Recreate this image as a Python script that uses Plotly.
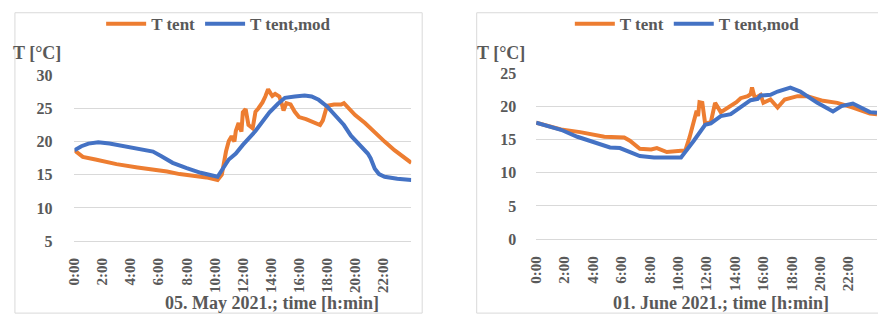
import plotly.graph_objects as go

W, H = 878, 324

# ---- data: 05 May 2021 ----
may_tent_h = [0.0, 0.3, 0.6, 1.5, 3.0, 4.5, 6.0, 6.6, 7.5, 8.5, 9.4, 10.2, 10.5, 10.8, 11.0, 11.2, 11.4, 11.5,
              11.7, 11.9, 12.0, 12.2, 12.4, 12.7, 12.9, 13.1, 13.4, 13.6, 13.8, 14.0, 14.1, 14.3, 14.6, 14.8,
              14.9, 15.1, 15.4, 15.7, 16.0, 16.5, 16.9, 17.2, 17.5, 17.7, 17.85, 18.0, 18.5, 19.0, 19.2, 19.5,
              20.0, 20.7, 21.4, 22.1, 22.8, 23.5, 24.0]
may_tent_T = [18.7, 18.2, 17.7, 17.3, 16.6, 16.1, 15.7, 15.5, 15.1, 14.8, 14.6, 14.2, 15.0, 18.5, 20.1, 20.8, 20.0, 21.6,
              22.8, 21.5, 24.4, 24.9, 22.5, 22.0, 24.5, 25.0, 25.9, 26.8, 27.9, 27.2, 26.9, 27.2, 26.8, 25.5,
              24.7, 25.8, 25.6, 24.5, 23.7, 23.4, 23.0, 22.8, 22.5, 23.2, 24.5, 25.4, 25.6, 25.6, 25.8, 25.1,
              24.0, 22.8, 21.3, 20.0, 18.7, 17.5, 16.8]
may_mod_h = [0.0, 0.5, 1.0, 1.7, 2.5, 3.5, 4.5, 5.3, 5.6, 6.2, 7.0, 8.0, 9.0, 10.2, 10.5, 11.0, 11.5, 12.0, 12.9,
             13.4, 13.9, 14.5, 15.0, 15.7, 16.4, 16.9, 17.4, 18.0, 18.6, 19.2, 19.7, 20.3, 20.9, 21.1, 21.4,
             21.7, 22.1, 23.0, 24.0]
may_mod_T = [18.7, 19.3, 19.7, 19.9, 19.7, 19.3, 18.9, 18.5, 18.5, 17.8, 16.8, 16.0, 15.3, 14.7, 15.6, 17.3, 18.2,
             19.5, 21.6, 23.0, 24.4, 25.7, 26.6, 26.8, 26.95, 26.8, 26.3, 25.3, 24.0, 22.5, 20.9, 19.5, 18.2,
             17.5, 15.9, 15.1, 14.7, 14.4, 14.2]

# ---- data: 01 June 2021 ----
jun_tent_h = [0.0, 1.0, 1.75, 3.1, 4.0, 4.8, 6.2, 6.6, 7.3, 8.1, 8.5, 9.2, 10.2, 10.5, 10.8, 11.1, 11.3, 11.4, 11.5,
              11.7, 11.9, 12.3, 12.6, 13.0, 13.7, 14.1, 14.4, 14.9, 15.1, 15.2, 15.4, 15.8, 16.0, 16.5, 17.0,
              17.5, 18.4, 19.1, 20.2, 21.2, 22.3, 23.5, 24.0]
jun_tent_T = [17.5, 17.0, 16.5, 16.1, 15.7, 15.4, 15.3, 14.8, 13.6, 13.5, 13.7, 13.1, 13.3, 13.3, 15.3, 18.1, 19.3, 18.5, 20.6,
              20.5, 17.4, 17.6, 20.5, 19.1, 20.0, 20.6, 21.2, 21.5, 21.8, 22.8, 21.2, 21.7, 20.5, 21.0, 19.8,
              21.0, 21.5, 21.5, 20.8, 20.5, 19.8, 18.9, 18.8]
jun_mod_h = [0.0, 1.75, 2.9, 4.1, 5.2, 5.9, 6.4, 7.3, 8.3, 10.2, 11.1, 11.9, 12.3, 13.0, 13.7, 14.4, 15.1, 15.6,
             15.8, 16.5, 17.0, 17.9, 18.6, 19.8, 20.9, 21.5, 22.3, 23.5, 24.0]
jun_mod_T = [17.5, 16.45, 15.4, 14.55, 13.8, 13.7, 13.3, 12.5, 12.3, 12.3, 14.8, 17.2, 17.4, 18.5, 18.8, 19.8, 20.9, 21.1,
             21.6, 21.7, 22.2, 22.8, 22.2, 20.5, 19.2, 20.0, 20.4, 19.1, 19.0]

tick_vals = [0, 2, 4, 6, 8, 10, 12, 14, 16, 18, 20, 22]
tick_text = ["0:00", "2:00", "4:00", "6:00", "8:00", "10:00", "12:00", "14:00", "16:00", "18:00", "20:00", "22:00"]
series_names = ["T tent", "T tent,mod"]
titles = ["05. May 2021.; time [h:min]", "01. June 2021.; time [h:min]"]

ORANGE = "#ED7D31"
BLUE = "#4472C4"
TXT = "#595959"
GRID = "#D9D9D9"
FONT = "Liberation Serif"
LW = 4

fig = go.Figure()
fig.add_trace(go.Scatter(x=may_tent_h, y=may_tent_T, name=series_names[0], mode="lines",
                         line=dict(color=ORANGE, width=LW), xaxis="x", yaxis="y", legend="legend"))
fig.add_trace(go.Scatter(x=may_mod_h, y=may_mod_T, name=series_names[1], mode="lines",
                         line=dict(color=BLUE, width=LW), xaxis="x", yaxis="y", legend="legend"))
fig.add_trace(go.Scatter(x=jun_tent_h, y=jun_tent_T, name=series_names[0], mode="lines",
                         line=dict(color=ORANGE, width=LW), xaxis="x2", yaxis="y2", legend="legend2"))
fig.add_trace(go.Scatter(x=jun_mod_h, y=jun_mod_T, name=series_names[1], mode="lines",
                         line=dict(color=BLUE, width=LW), xaxis="x2", yaxis="y2", legend="legend2"))

xtickfont = dict(family=FONT, size=15, color=TXT, weight="bold")
ytickfont = dict(family=FONT, size=16, color=TXT, weight="bold")

def xax(dom, anchor):
    return dict(domain=dom, anchor=anchor, range=[0, 24], tickmode="array", tickvals=tick_vals,
                ticktext=tick_text, tickangle=-90, tickfont=xtickfont, showgrid=False, zeroline=False,
                showline=True, linecolor=GRID, linewidth=1, ticks="", ticklabelstandoff=10)

def yax(dom, anchor, rng, dt, so):
    return dict(domain=dom, anchor=anchor, range=rng, dtick=dt, tick0=0, tickfont=ytickfont,
                showgrid=True, gridcolor=GRID, gridwidth=1, zeroline=False, showline=False,
                ticks="", ticklabelstandoff=so)

legfont = dict(family=FONT, size=17, color=TXT, weight="bold")
fig.update_layout(
    width=W, height=H, margin=dict(l=0, r=0, t=0, b=0),
    paper_bgcolor="white", plot_bgcolor="white",
    xaxis=xax([67 / W, 407 / W], "y"),
    yaxis=yax([(H - 246) / H, (H - 71) / H], "x", [5, 30], 5, 21),
    xaxis2=xax([533 / W, 877 / W], "y2"),
    yaxis2=yax([(H - 244) / H, (H - 68.5) / H], "x2", [0, 25], 5, 19),
    legend=dict(orientation="h", x=94 / W, y=1 + 2 / H, xanchor="left", yanchor="top",
                font=legfont, bgcolor="rgba(0,0,0,0)", itemwidth=40, tracegroupgap=0),
    legend2=dict(orientation="h", x=567 / W, y=1 + 2 / H, xanchor="left", yanchor="top",
                 font=legfont, bgcolor="rgba(0,0,0,0)", itemwidth=40, tracegroupgap=0),
    showlegend=True,
)

# chart frames
fig.add_shape(type="rect", xref="paper", yref="paper", x0=7 / W, x1=418 / W, y0=1 - 322 / H, y1=1 - 5 / H,
              line=dict(color=GRID, width=1), layer="below")
fig.add_shape(type="rect", xref="paper", yref="paper", x0=473 / W, x1=1.01, y0=1 - 322 / H, y1=1 - 5 / H,
              line=dict(color=GRID, width=1), layer="below")

ann_font = dict(family=FONT, size=18, color=TXT, weight="bold")
for cx, txt in [(266, titles[0]), (720, titles[1])]:
    fig.add_annotation(text=txt, xref="paper", yref="paper", x=cx / W, y=1 - 311 / H,
                       showarrow=False, xanchor="center", yanchor="middle", font=ann_font)
for lx in [3, 471]:
    fig.add_annotation(text="T [°C]", xref="paper", yref="paper", x=lx / W, y=1 - 47 / H,
                       showarrow=False, xanchor="left", yanchor="middle", font=ann_font)

fig.write_html("out.html")
